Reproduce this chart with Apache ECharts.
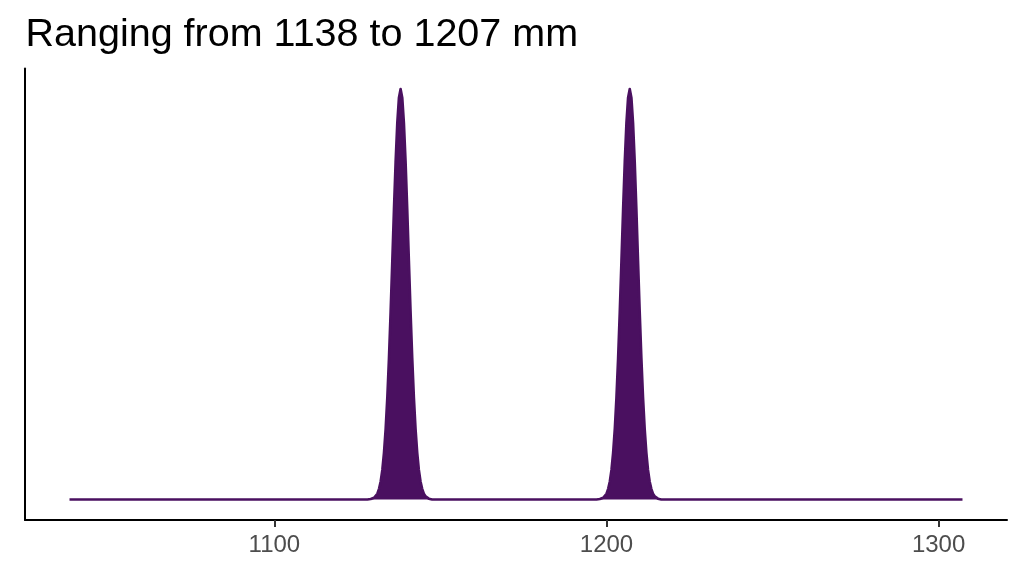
<!DOCTYPE html>
<html>
<head>
<meta charset="utf-8">
<script src="https://cdn.jsdelivr.net/npm/echarts@6/dist/echarts.min.js"></script>
<style>
  html, body { margin: 0; padding: 0; background: #fff; }
  #main { width: 1024px; height: 576px; }
</style>
</head>
<body>
<div id="main"></div>
<script>
// 密度曲线 (两个峰: 1138 / 1207 mm)
var sizeMm = [
  1038.3,
  1128, 1128.5, 1129, 1129.5, 1130, 1130.5, 1131, 1131.5, 1132, 1132.5,
  1133, 1133.5, 1134, 1134.5, 1135, 1135.5, 1136, 1136.5, 1137, 1137.5,
  1138, 1138.5, 1139, 1139.5, 1140, 1140.5, 1141, 1141.5, 1142, 1142.5,
  1143, 1143.5, 1144, 1144.5, 1145, 1145.5, 1146, 1146.5, 1147, 1147.5, 1148,
  1197, 1197.5, 1198, 1198.5, 1199, 1199.5, 1200, 1200.5, 1201, 1201.5,
  1202, 1202.5, 1203, 1203.5, 1204, 1204.5, 1205, 1205.5, 1206, 1206.5,
  1207, 1207.5, 1208, 1208.5, 1209, 1209.5, 1210, 1210.5, 1211, 1211.5,
  1212, 1212.5, 1213, 1213.5, 1214, 1214.5, 1215, 1215.5, 1216, 1216.5, 1217,
  1307.2
];
var density = [
  0,
  0, 0, 0.001, 0.002, 0.004, 0.008, 0.014, 0.026, 0.044, 0.072,
  0.114, 0.172, 0.249, 0.345, 0.458, 0.581, 0.707, 0.823, 0.917, 0.979,
  1, 0.979, 0.917, 0.823, 0.707, 0.581, 0.458, 0.345, 0.249, 0.172,
  0.114, 0.072, 0.044, 0.026, 0.014, 0.008, 0.004, 0.002, 0.001, 0, 0,
  0, 0, 0.001, 0.002, 0.004, 0.008, 0.014, 0.026, 0.044, 0.072,
  0.114, 0.172, 0.249, 0.345, 0.458, 0.581, 0.707, 0.823, 0.917, 0.979,
  1, 0.979, 0.917, 0.823, 0.707, 0.581, 0.458, 0.345, 0.249, 0.172,
  0.114, 0.072, 0.044, 0.026, 0.014, 0.008, 0.004, 0.002, 0.001, 0, 0,
  0
];
var xTicks = [1100, 1200, 1300];
var titleText = 'Ranging from 1138 to 1207 mm';

var fillColor = '#4a1060';
var points = sizeMm.map(function (v, i) { return [v, density[i]]; });

var myChart = echarts.init(document.getElementById('main'));
var option = {
  backgroundColor: '#ffffff',
  animation: false,
  title: {
    text: titleText,
    left: 20.5,
    top: 10,
    textStyle: {
      fontFamily: 'Liberation Sans',
      fontSize: 39.5,
      fontWeight: 'normal',
      color: '#000000'
    }
  },
  grid: { left: 25, right: 17, top: 68.5, bottom: 56 },
  xAxis: {
    type: 'value',
    min: 1024.9,
    max: 1320.6,
    axisLine: { onZero: false, lineStyle: { color: '#000000', width: 2 } },
    axisTick: {
      show: true,
      length: 7,
      customValues: xTicks,
      lineStyle: { color: '#333333', width: 2 }
    },
    axisLabel: {
      margin: 13,
      fontFamily: 'Liberation Sans',
      fontSize: 24,
      color: '#4d4d4d',
      customValues: xTicks,
      formatter: function (v) { return String(v); }
    },
    // 分隔线保留但透明
    splitLine: { show: true, lineStyle: { color: 'rgba(0,0,0,0)' } }
  },
  yAxis: {
    type: 'value',
    min: -0.05,
    max: 1.05,
    axisLine: { show: true, lineStyle: { color: '#000000', width: 2 } },
    axisTick: { show: false },
    axisLabel: { show: false },
    splitLine: { show: false }
  },
  series: [{
    type: 'line',
    data: points,
    showSymbol: false,
    smooth: false,
    lineStyle: { color: fillColor, width: 2.6, join: 'round' },
    areaStyle: { color: fillColor, opacity: 1, origin: 0 }
  }]
};
myChart.setOption(option);
</script>
</body>
</html>
